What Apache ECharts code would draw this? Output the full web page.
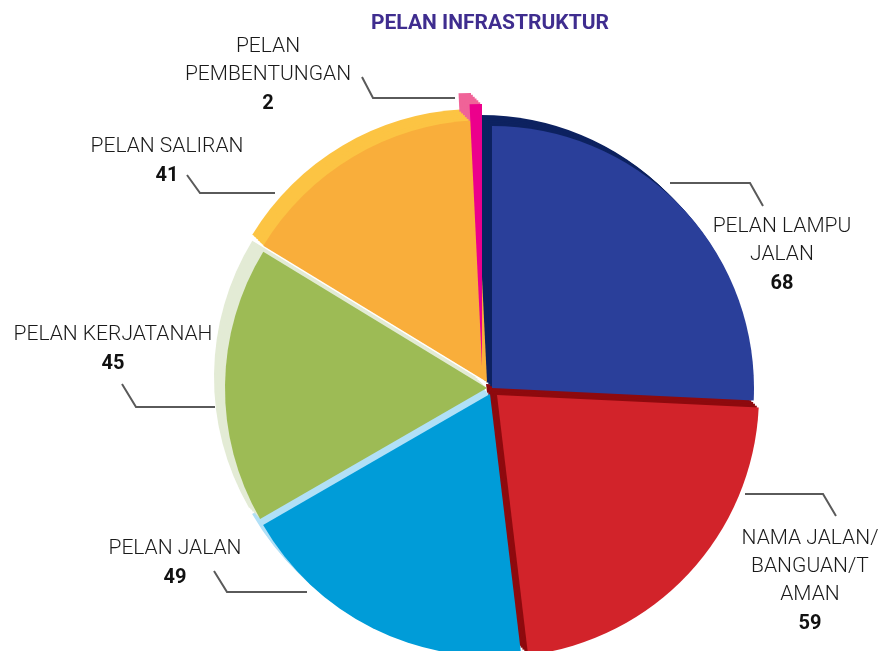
<!DOCTYPE html>
<html>
<head>
<meta charset="utf-8">
<script src="https://cdn.jsdelivr.net/npm/echarts@6/dist/echarts.min.js"></script>
<style>
  html, body { margin: 0; padding: 0; background: #fff; }
  #chart { width: 885px; height: 651px; }
</style>
</head>
<body>
<div id="chart"></div>
<script>
// data
const categories = ['PELAN LAMPU JALAN', 'NAMA JALAN/BANGUAN/TAMAN', 'PELAN JALAN', 'PELAN KERJATANAH', 'PELAN SALIRAN', 'PELAN PEMBENTUNGAN']
const values = [68, 59, 49, 45, 41, 2]
const labelNames = ['PELAN LAMPU\nJALAN', 'NAMA JALAN/\nBANGUAN/T\nAMAN', 'PELAN JALAN', 'PELAN KERJATANAH', 'PELAN SALIRAN', 'PELAN\nPEMBENTUNGAN']

// styles
const faceColors = ['#2a3f9a', '#d2232a', '#009cd8', '#9dbb55', '#f9ae3b', '#ec008c']
const rimColors = ['#0d2260', '#8e0a0e', '#b1e0f7', '#e3ebd5', '#fcc443', '#f06398']
const sliceShift = [[5, 0], [10, 7], [3, 6], [0, 0], [0, -6], [-5, -22]]
const rimShift = [-11, -11]
const rimSteps = 6
const cx = 487
const cy = 388
const R = 262
// label anchor (block centre) and leader line per slice
const labelPos = [[782, 256], [810, 582], [175, 564], [113, 350], [167, 162], [268, 76]]
const leaderPts = [
  [[670, 183], [750, 183], [763, 206]],
  [[745, 494], [823, 494], [836, 516]],
  [[307, 592], [227, 592], [214, 571]],
  [[215, 407], [136, 407], [122, 384]],
  [[275, 193], [200, 193], [187, 175]],
  [[455, 98], [373, 98], [362, 77]],
]

const chart = echarts.init(document.getElementById('chart'))

function slicePie(idx, center, color, withLabel, z) {
  return {
    type: 'pie',
    silent: true,
    z: z,
    radius: [0, R],
    center: center,
    startAngle: 90,
    clockwise: true,
    avoidLabelOverlap: false,
    animation: false,
    itemStyle: { borderWidth: 0 },
    label: {
      show: false,
      position: 'outside',
      color: '#1a1a1a',
      formatter: (p) => `{n|${labelNames[p.dataIndex]}}\n{v|${p.value}}`,
      rich: {
        n: { fontFamily: 'Roboto', fontWeight: 300, fontSize: 21, lineHeight: 28, color: '#1a1a1a', align: 'center' },
        v: { fontFamily: 'Roboto', fontWeight: 'bold', fontSize: 20, lineHeight: 30, color: '#111', align: 'center' },
      },
    },
    labelLine: {
      show: false,
      smooth: false,
      lineStyle: { color: '#5a5a5a', width: 2 },
    },
    labelLayout: (params) => {
      if (!withLabel || params.dataIndex !== idx) return {}
      return {
        x: labelPos[idx][0],
        y: labelPos[idx][1],
        align: 'center',
        verticalAlign: 'middle',
        labelLinePoints: leaderPts[idx],
      }
    },
    data: values.map((v, j) => ({
      name: categories[j],
      value: v,
      itemStyle: { color: j === idx ? color : 'rgba(0,0,0,0)', borderWidth: 0 },
      label: { show: withLabel && j === idx },
      labelLine: { show: withLabel && j === idx },
    })),
  }
}

const series = []
// extruded side walls, deepest copy first
for (let s = rimSteps; s >= 1; s--) {
  for (let i = 0; i < values.length; i++) {
    const dx = sliceShift[i][0] + (rimShift[0] * s) / rimSteps
    const dy = sliceShift[i][1] + (rimShift[1] * s) / rimSteps
    series.push(slicePie(i, [cx + dx, cy + dy], rimColors[i], false, 1))
  }
}
// top faces
for (let i = 0; i < values.length; i++) {
  series.push(slicePie(i, [cx + sliceShift[i][0], cy + sliceShift[i][1]], faceColors[i], true, 2))
}

chart.setOption({
  animation: false,
  backgroundColor: '#ffffff',
  title: {
    text: 'PELAN INFRASTRUKTUR',
    left: 366,
    top: 8,
    textStyle: {
      fontFamily: 'Roboto',
      fontWeight: 'bold',
      fontSize: 21,
      color: '#3f2d8f',
    },
  },
  series: series,
})
</script>
</body>
</html>
